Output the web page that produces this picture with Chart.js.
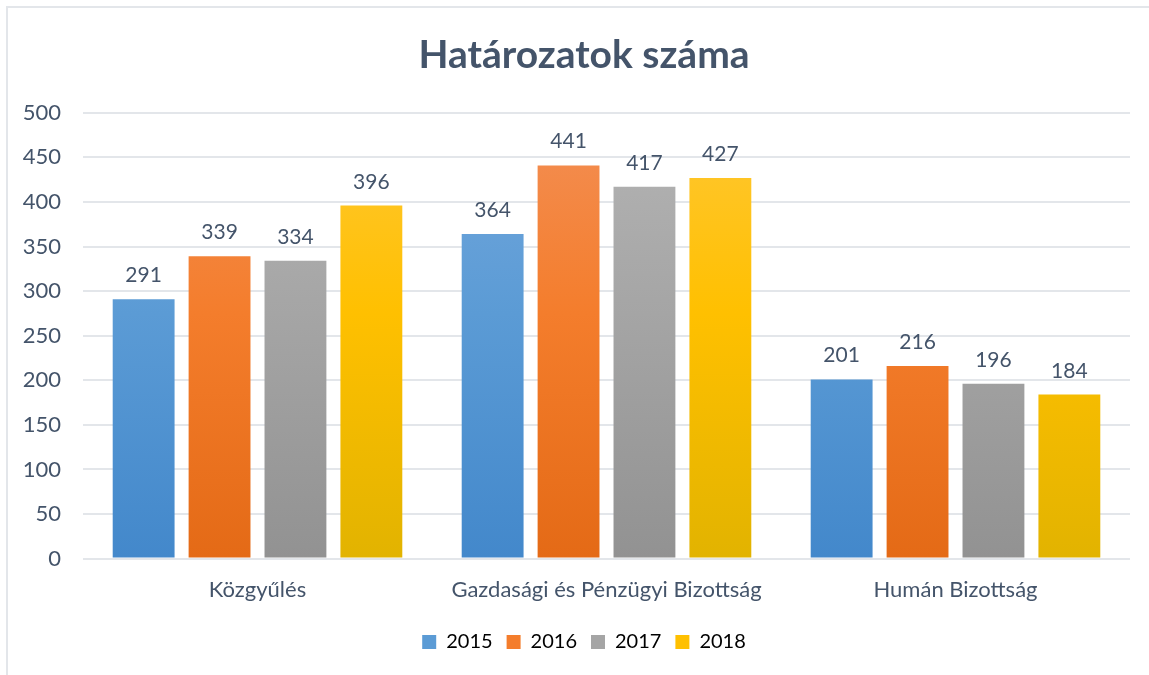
<!DOCTYPE html>
<html>
<head>
<meta charset="utf-8">
<script src="https://cdn.jsdelivr.net/npm/chart.js@4.4.1/dist/chart.umd.min.js"></script>
<style>
  html, body { margin: 0; padding: 0; background: #fff; }
  #wrap { position: relative; width: 1149px; height: 675px; overflow: hidden; }
  #frame { position: absolute; left: 6px; top: 6px; width: 1160px; height: 700px; border: 2px solid #e3e6ea; box-sizing: border-box; }
  canvas { position: absolute; left: 0; top: 0; }
</style>
</head>
<body>
<div id="wrap">
  <div id="frame"></div>
  <canvas id="chart" width="1149" height="675"></canvas>
</div>
<script>
const categories = ['Közgyűlés', 'Gazdasági és Pénzügyi Bizottság', 'Humán Bizottság'];
const years = ['2015', '2016', '2017', '2018'];
const values2015 = [291, 364, 201];
const values2016 = [339, 441, 216];
const values2017 = [334, 417, 196];
const values2018 = [396, 427, 184];
const yTicks = [0, 50, 100, 150, 200, 250, 300, 350, 400, 450, 500];

const FONT = 'Lato, "Open Sans", sans-serif';
const TEXT = '#44546a';

// top, middle, bottom colours of each bar gradient
const stops = [
  ['#74a8dd', '#5b9bd5', '#4388cb'],
  ['#f38f55', '#f47d2c', '#e46a16'],
  ['#b4b4b4', '#a5a5a5', '#929292'],
  ['#ffc735', '#ffc000', '#e2b300'],
];

function barFill(i) {
  return (ctx) => {
    const area = ctx.chart.chartArea;
    if (!area) return stops[i][1];
    const g = ctx.chart.ctx.createLinearGradient(0, area.top, 0, area.bottom);
    g.addColorStop(0, stops[i][0]);
    g.addColorStop(0.45, stops[i][1]);
    g.addColorStop(1, stops[i][2]);
    return g;
  };
}

// value above each bar
const valueLabels = {
  id: 'valueLabels',
  afterDatasetsDraw(chart) {
    const c = chart.ctx;
    c.save();
    c.font = '21px ' + FONT;
    c.fillStyle = TEXT;
    c.textAlign = 'center';
    c.textBaseline = 'alphabetic';
    chart.data.datasets.forEach((ds, di) => {
      chart.getDatasetMeta(di).data.forEach((bar, i) => {
        c.fillText(ds.data[i], bar.x, bar.y - 17);
      });
    });
    c.restore();
  }
};

// y tick labels drawn by hand so they can sit outside the (narrow) scale box
const yLabels = {
  id: 'yLabels',
  afterDraw(chart) {
    const c = chart.ctx, y = chart.scales.y;
    c.save();
    c.font = '22px ' + FONT;
    c.fillStyle = TEXT;
    c.textAlign = 'right';
    c.textBaseline = 'middle';
    yTicks.forEach(v => c.fillText(v, chart.chartArea.left - 22, y.getPixelForValue(v)));
    c.restore();
  }
};

const series = [values2015, values2016, values2017, values2018];

new Chart(document.getElementById('chart'), {
  type: 'bar',
  data: {
    labels: categories,
    datasets: series.map((vals, i) => ({
      label: years[i],
      data: vals,
      backgroundColor: barFill(i),
      borderWidth: 0,
      categoryPercentage: 0.87,
      barPercentage: 0.815,
    })),
  },
  options: {
    responsive: false,
    animation: false,
    layout: { padding: { left: 38, right: 19, top: 0, bottom: 13 } },
    plugins: {
      title: {
        display: true,
        text: 'Határozatok száma',
        color: TEXT,
        font: { family: FONT, size: 39, weight: 'bold' },
        padding: { top: 32, bottom: 34 },
      },
      legend: {
        position: 'bottom',
        labels: {
          color: TEXT,
          font: { family: FONT, size: 20 },
          boxWidth: 14,
          boxHeight: 14,
          padding: 14,
          generateLabels(chart) {
            return years.map((y, i) => ({
              text: y,
              fillStyle: stops[i][1],
              strokeStyle: stops[i][1],
              lineWidth: 0,
              datasetIndex: i,
            }));
          },
        },
      },
      tooltip: { enabled: false },
    },
    scales: {
      x: {
        afterFit(scale) { scale.height += 5; },
        grid: { display: false },
        border: { display: false },
        ticks: { color: TEXT, font: { family: FONT, size: 22 }, padding: 10 },
      },
      y: {
        min: 0,
        max: 500,
        afterBuildTicks(scale) { scale.ticks = yTicks.map(v => ({ value: v })); },
        afterFit(scale) { scale.width = 45; },
        grid: { color: '#e3e6ea', lineWidth: 2, drawTicks: false },
        border: { display: false },
        ticks: { display: false },
      },
    },
  },
  plugins: [valueLabels, yLabels],
});
</script>
</body>
</html>
